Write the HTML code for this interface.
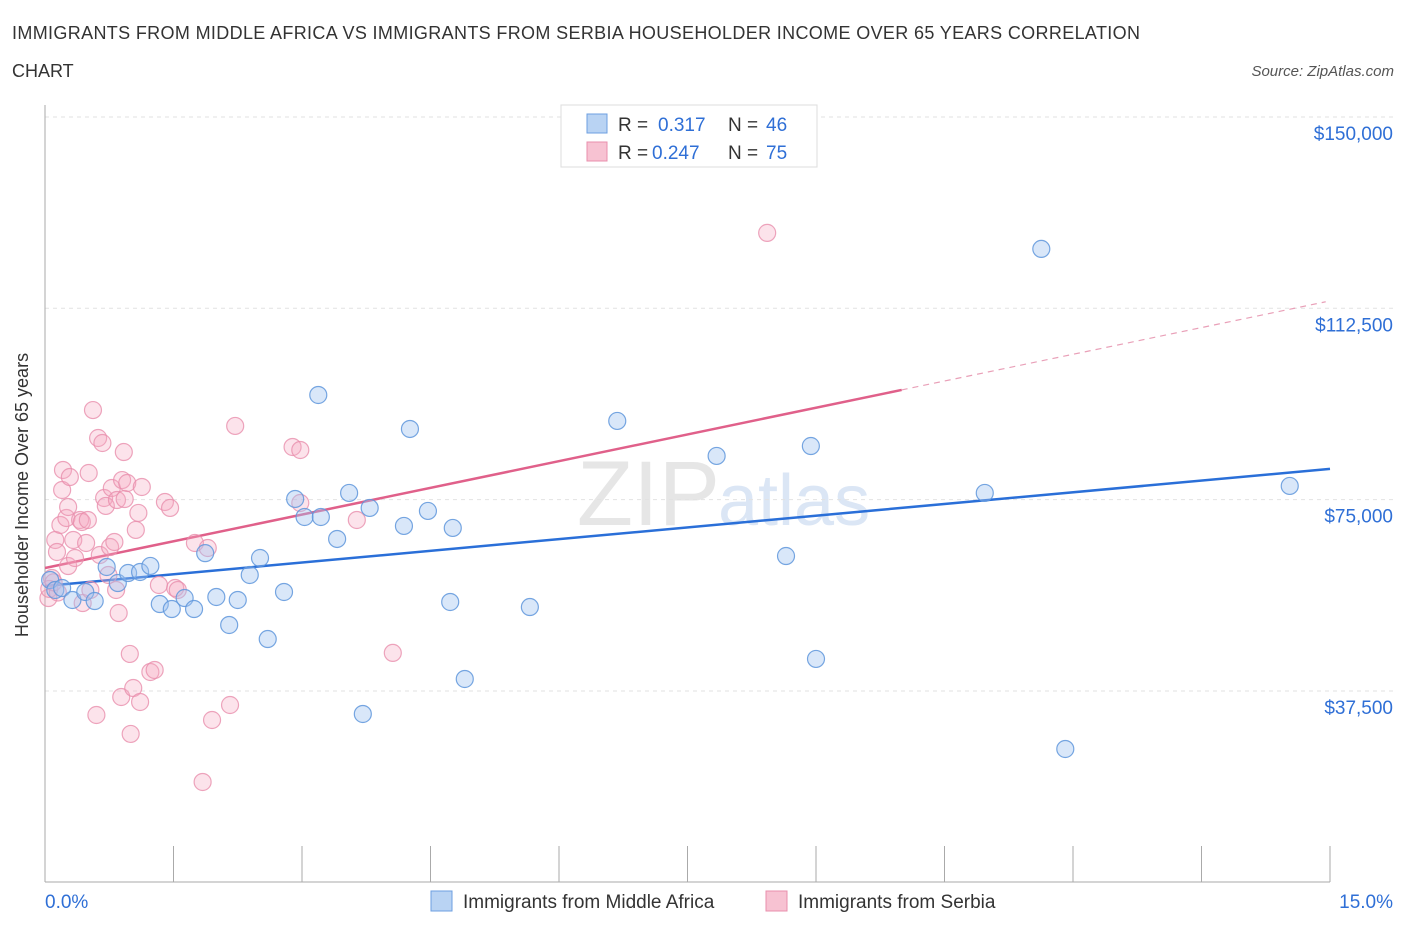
<!DOCTYPE html>
<html><head><meta charset="utf-8"><style>
body{margin:0;background:#fff;font-family:"Liberation Sans",sans-serif;}
svg text{font-family:"Liberation Sans",sans-serif;}
</style></head><body>
<svg id="chart" width="1406" height="930">
<text x="12" y="39" font-size="18" fill="#333" textLength="1128" lengthAdjust="spacing">IMMIGRANTS FROM MIDDLE AFRICA VS IMMIGRANTS FROM SERBIA HOUSEHOLDER INCOME OVER 65 YEARS CORRELATION</text>
<text x="12" y="77" font-size="18" fill="#333">CHART</text>
<text x="1394" y="76" font-size="15" fill="#555" font-style="italic" text-anchor="end">Source: ZipAtlas.com</text>
<text x="720" y="525" font-size="92" fill="#e6e6e6" text-anchor="end" font-family="Liberation Serif">ZIP</text>
<text x="718" y="525" font-size="72" fill="#dbe6f5">atlas</text>
<g id="grid"></g><g id="axes"></g><g id="lines"></g><g id="pts"></g>
<g>
<rect x="561" y="105" width="256" height="62" fill="#fff" stroke="#ddd"/>
<rect x="587" y="114" width="20" height="19" fill="#b9d3f3" stroke="#6d9fe0"/>
<rect x="587" y="142" width="20" height="19" fill="#f7c2d2" stroke="#e88fac"/>
<text x="618" y="131" font-size="19" fill="#333">R = </text><text x="658" y="131" font-size="19" fill="#2f6fd6">0.317</text>
<text x="728" y="131" font-size="19" fill="#333">N = </text><text x="766" y="131" font-size="19" fill="#2f6fd6">46</text>
<text x="618" y="159" font-size="19" fill="#333">R = </text><text x="652" y="159" font-size="19" fill="#2f6fd6">0.247</text>
<text x="728" y="159" font-size="19" fill="#333">N = </text><text x="766" y="159" font-size="19" fill="#2f6fd6">75</text>
</g>
<g>
<rect x="431" y="891" width="21" height="20" fill="#b9d3f3" stroke="#6d9fe0"/>
<text x="463" y="908" font-size="19" fill="#333">Immigrants from Middle Africa</text>
<rect x="766" y="891" width="21" height="20" fill="#f7c2d2" stroke="#e88fac"/>
<text x="798" y="908" font-size="19" fill="#333">Immigrants from Serbia</text>
</g>
<text x="28" y="495" font-size="18" fill="#333" transform="rotate(-90 28 495)" text-anchor="middle">Householder Income Over 65 years</text>
</svg>
<script>
const yTicks=[37500,75000,112500,150000];
const yTickLabels=["$37,500","$75,000","$112,500","$150,000"];
const blueX=[0.06,0.12,0.20,0.32,0.47,0.58,0.72,0.85,0.97,1.11,1.23,1.34,1.48,1.63,1.74,1.87,2.00,2.15,2.25,2.39,2.51,2.60,2.79,2.92,3.03,3.19,3.22,3.41,3.55,3.71,3.79,4.19,4.26,4.47,4.73,4.76,4.90,5.66,6.68,7.84,8.65,8.94,9.00,10.97,11.63,11.91,14.53];
const blueY=[59250,57290,57680,55330,56900,55130,61800,58660,60620,60820,62000,54540,53560,55720,53560,64510,55920,50430,55330,60230,63560,47680,56900,75130,71600,95510,71600,67290,76310,32990,73370,69840,88850,72780,54940,69450,39850,53950,90420,83560,63950,85510,43780,76310,124140,26130,77680];
const pinkX=[0.04,0.08,0.12,0.14,0.18,0.20,0.21,0.25,0.27,0.27,0.29,0.33,0.35,0.41,0.43,0.44,0.48,0.50,0.51,0.53,0.56,0.60,0.62,0.64,0.67,0.69,0.71,0.74,0.76,0.78,0.81,0.83,0.84,0.86,0.89,0.90,0.92,0.93,0.96,0.99,1.00,1.03,1.06,1.09,1.11,1.13,1.23,1.28,1.33,1.40,1.46,1.52,1.55,1.75,1.84,1.90,1.95,2.16,2.22,2.89,2.98,2.98,3.64,4.06,8.43,0.05,0.10,0.15];
const pinkY=[55720,59640,67090,64740,70030,76890,80810,71400,73560,61990,79430,67090,63560,71010,70620,54740,66500,71010,80220,57290,92560,32790,87080,64150,86100,75320,73760,60230,65710,77280,66700,57290,74930,52780,36320,78840,84330,75120,78260,44760,29080,38080,69060,72390,35340,77480,41220,41610,58270,74540,73370,57680,57290,66500,19660,65520,31810,34750,89440,85320,84730,74340,71010,44960,127280,57500,58800,56800];
const blueTrend=[58080,81030];   // value at 0% and 15%
const pinkTrend=[61600,113780];  // value at 0% and 14.95%
const NS="http://www.w3.org/2000/svg";
const X=v=>45+v/15*1285;
const Y=v=>882.3-v/112500*574;
function mk(tag,attrs,parent){const e=document.createElementNS(NS,tag);for(const k in attrs)e.setAttribute(k,attrs[k]);document.getElementById(parent).appendChild(e);return e;}
yTicks.forEach((t,i)=>{
 const g=mk('line',{x1:45,x2:1394,y1:Y(t),y2:Y(t),stroke:'#e2e2e2','stroke-dasharray':'4,4'},'grid');
 
 
 const l=mk('text',{x:1393,y:Y(t)+23,'font-size':19,fill:'#2f6fd6','text-anchor':'end'},'grid');
 l.textContent=yTickLabels[i];
 
 
});
const ax=mk('line',{x1:45,x2:45,y1:105,y2:882,stroke:'#aaa'},'axes');


const bx=mk('line',{x1:45,x2:1330,y1:882,y2:882,stroke:'#aaa'},'axes');


for(let i=0;i<=10;i++){const t=mk('line',{x1:X(i*1.5),x2:X(i*1.5),y1:846,y2:882,stroke:'#aaa'},'axes');
 
 }
[["0.0%",45,"start"],["15.0%",1393,"end"]].forEach(a=>{const t=mk('text',{x:a[1],y:908,'font-size':19,fill:'#2f6fd6','text-anchor':a[2]},'axes');t.textContent=a[0];
 
 });
pinkX.forEach((x,i)=>{const c=mk('circle',{cx:X(x),cy:Y(pinkY[i]),r:8.5,fill:'rgba(245,170,195,0.33)',stroke:'rgba(232,143,172,0.8)','stroke-width':1.2},'pts');
 
 });
blueX.forEach((x,i)=>{const c=mk('circle',{cx:X(x),cy:Y(blueY[i]),r:8.5,fill:'rgba(160,195,240,0.4)',stroke:'rgba(95,150,220,0.85)','stroke-width':1.2},'pts');
 
 });
const bl=mk('line',{x1:X(0),y1:Y(blueTrend[0]),x2:X(15),y2:Y(blueTrend[1]),stroke:'#2a6fd8','stroke-width':2.5},'lines');


const ps=(pinkTrend[1]-pinkTrend[0])/14.95;
const pl=mk('line',{x1:X(0),y1:Y(pinkTrend[0]),x2:X(10),y2:Y(pinkTrend[0]+ps*10),stroke:'#e0608a','stroke-width':2.5},'lines');


const pd=mk('line',{x1:X(10),y1:Y(pinkTrend[0]+ps*10),x2:X(14.95),y2:Y(pinkTrend[1]),stroke:'#e9a0b8','stroke-width':1.2,'stroke-dasharray':'6,5'},'lines');


</script>
</body></html>
